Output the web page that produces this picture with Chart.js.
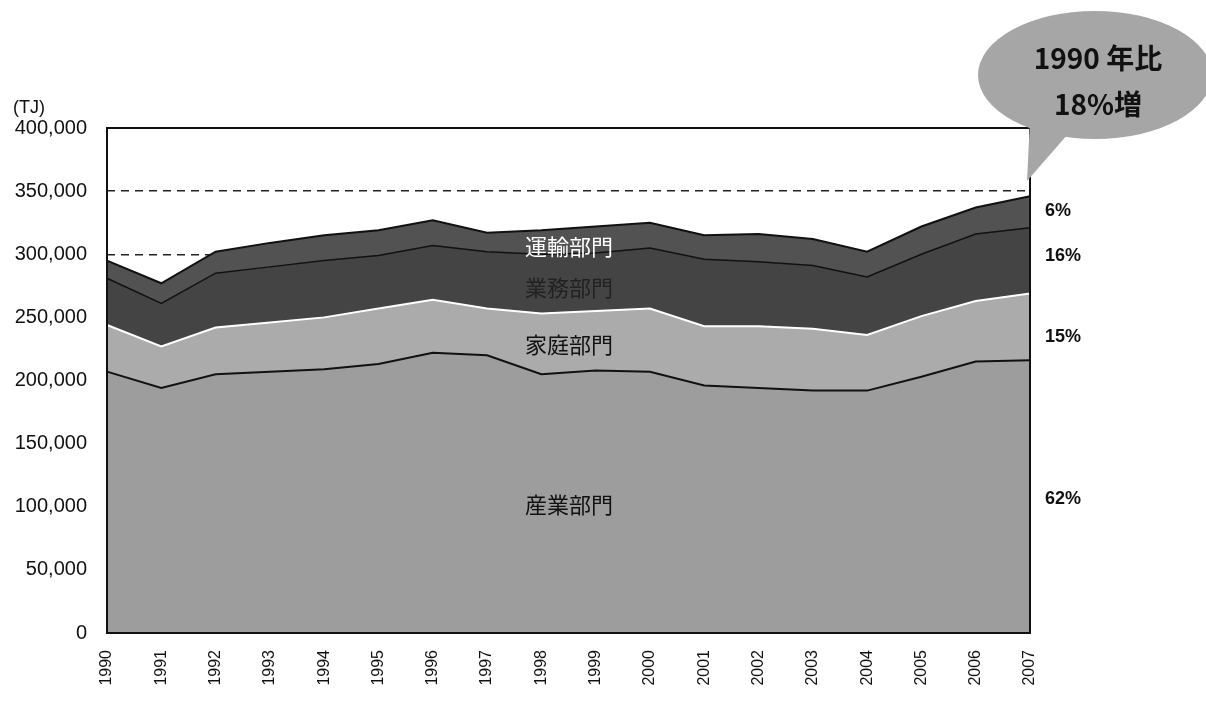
<!DOCTYPE html>
<html>
<head>
<meta charset="utf-8">
<script src="https://cdn.jsdelivr.net/npm/chart.js@4.4.0/dist/chart.umd.min.js"></script>
<style>
  body { margin: 0; background: #fff; }
  #wrap { width: 1206px; height: 703px; }
</style>
</head>
<body>
<div id="wrap"><canvas id="chart-1" width="1206" height="703"></canvas></div>
<script>
const years = ['1990','1991','1992','1993','1994','1995','1996','1997','1998',
  '1999','2000','2001','2002','2003','2004','2005','2006','2007'];

// TJ (stacked bottom to top)
const industry   = [207000,194000,205000,207000,209000,213000,222000,220000,205000,
  208000,207000,196000,194000,192000,192000,203000,215000,216000];
const household  = [37000,33000,37000,39000,41000,44000,42000,37000,48000,
  47000,50000,47000,49000,49000,44000,48000,48000,53000];
const commercial = [37000,34000,43000,44000,45000,42000,43000,45000,47000,
  46000,48000,53000,51000,50000,46000,49000,53000,52000];
const transport  = [14000,16000,17000,19000,20000,20000,20000,15000,19000,
  21000,20000,19000,22000,21000,20000,22000,21000,25000];

const sectorNames = ['産業部門','家庭部門','業務部門','運輸部門'];
const shares = ['62%','15%','16%','6%'];
const yTicks = [0,50000,100000,150000,200000,250000,300000,350000,400000];

const extras = {
  id: 'extras',
  afterDraw(chart) {
    const c = chart.ctx, a = chart.chartArea;
    c.save();
    // frame
    c.strokeStyle = '#111';
    c.lineWidth = 2;
    c.strokeRect(a.left, a.top, a.right - a.left, a.bottom - a.top);

    // unit
    c.fillStyle = '#111';
    c.font = '18px "Liberation Sans", Arial, sans-serif';
    c.textBaseline = 'middle';
    c.textAlign = 'left';
    c.fillText('(TJ)', 13, 108);

    // sector names inside the areas
    c.font = '22px "Noto Sans CJK JP", sans-serif';
    c.textAlign = 'center';
    const cx = 569;
    c.fillStyle = '#fff';
    c.fillText(sectorNames[3], cx, 247);
    c.fillStyle = '#222';
    c.fillText(sectorNames[2], cx, 288);
    c.fillStyle = '#111';
    c.fillText(sectorNames[1], cx, 345);
    c.fillText(sectorNames[0], cx, 505);

    // shares on the right
    c.font = 'bold 18px "Liberation Sans", Arial, sans-serif';
    c.textAlign = 'left';
    c.fillStyle = '#111';
    c.fillText(shares[3], 1045, 211);
    c.fillText(shares[2], 1045, 256);
    c.fillText(shares[1], 1045, 337);
    c.fillText(shares[0], 1045, 499);

    // speech bubble
    c.fillStyle = '#a6a6a6';
    c.beginPath();
    c.ellipse(1095, 75, 117, 64, 0, 0, Math.PI * 2);
    c.fill();
    c.beginPath();
    c.moveTo(1030, 120);
    c.lineTo(1068, 134);
    c.lineTo(1027, 181);
    c.closePath();
    c.fill();
    c.fillStyle = '#111';
    c.font = 'bold 28px "Noto Sans CJK JP", sans-serif';
    c.textAlign = 'center';
    c.fillText('1990 年比', 1098, 58);
    c.fillText('18%増', 1098, 104);
    c.restore();
  }
};

new Chart(document.getElementById('chart-1'), {
  type: 'line',
  data: {
    labels: years,
    datasets: [
      { label: sectorNames[0], data: industry, fill: 'origin',
        backgroundColor: '#9d9d9d', borderColor: '#111', borderWidth: 2 },
      { label: sectorNames[1], data: household, fill: '-1',
        backgroundColor: '#ababab', borderColor: '#fff', borderWidth: 2 },
      { label: sectorNames[2], data: commercial, fill: '-1',
        backgroundColor: '#444444', borderColor: '#111', borderWidth: 1.5 },
      { label: sectorNames[3], data: transport, fill: '-1',
        backgroundColor: '#525252', borderColor: '#111', borderWidth: 2 }
    ]
  },
  options: {
    responsive: false,
    animation: false,
    elements: { point: { radius: 0 }, line: { tension: 0 } },
    layout: { padding: { top: 128, right: 176, bottom: 0, left: 0 } },
    plugins: { legend: { display: false }, tooltip: { enabled: false } },
    scales: {
      x: {
        offset: false,
        grid: { display: false },
        border: { display: false },
        ticks: {
          color: '#111', maxRotation: 90, minRotation: 90, padding: 9,
          font: { family: '"Liberation Sans", Arial, sans-serif', size: 16 }
        },
        afterFit(s) { s.height = 70; }
      },
      y: {
        stacked: true,
        min: 0, max: 400000,
        afterBuildTicks(s) { s.ticks = yTicks.map(v => ({ value: v })); },
        grid: { color: '#222', lineWidth: 1.5, drawTicks: false },
        border: { display: false, dash: [8, 6] },
        ticks: {
          color: '#111', padding: 20,
          font: { family: '"Liberation Sans", Arial, sans-serif', size: 20 },
          callback: v => v.toLocaleString('en-US')
        },
        afterFit(s) { s.width = 107; }
      }
    }
  },
  plugins: [extras]
});
</script>
</body>
</html>
